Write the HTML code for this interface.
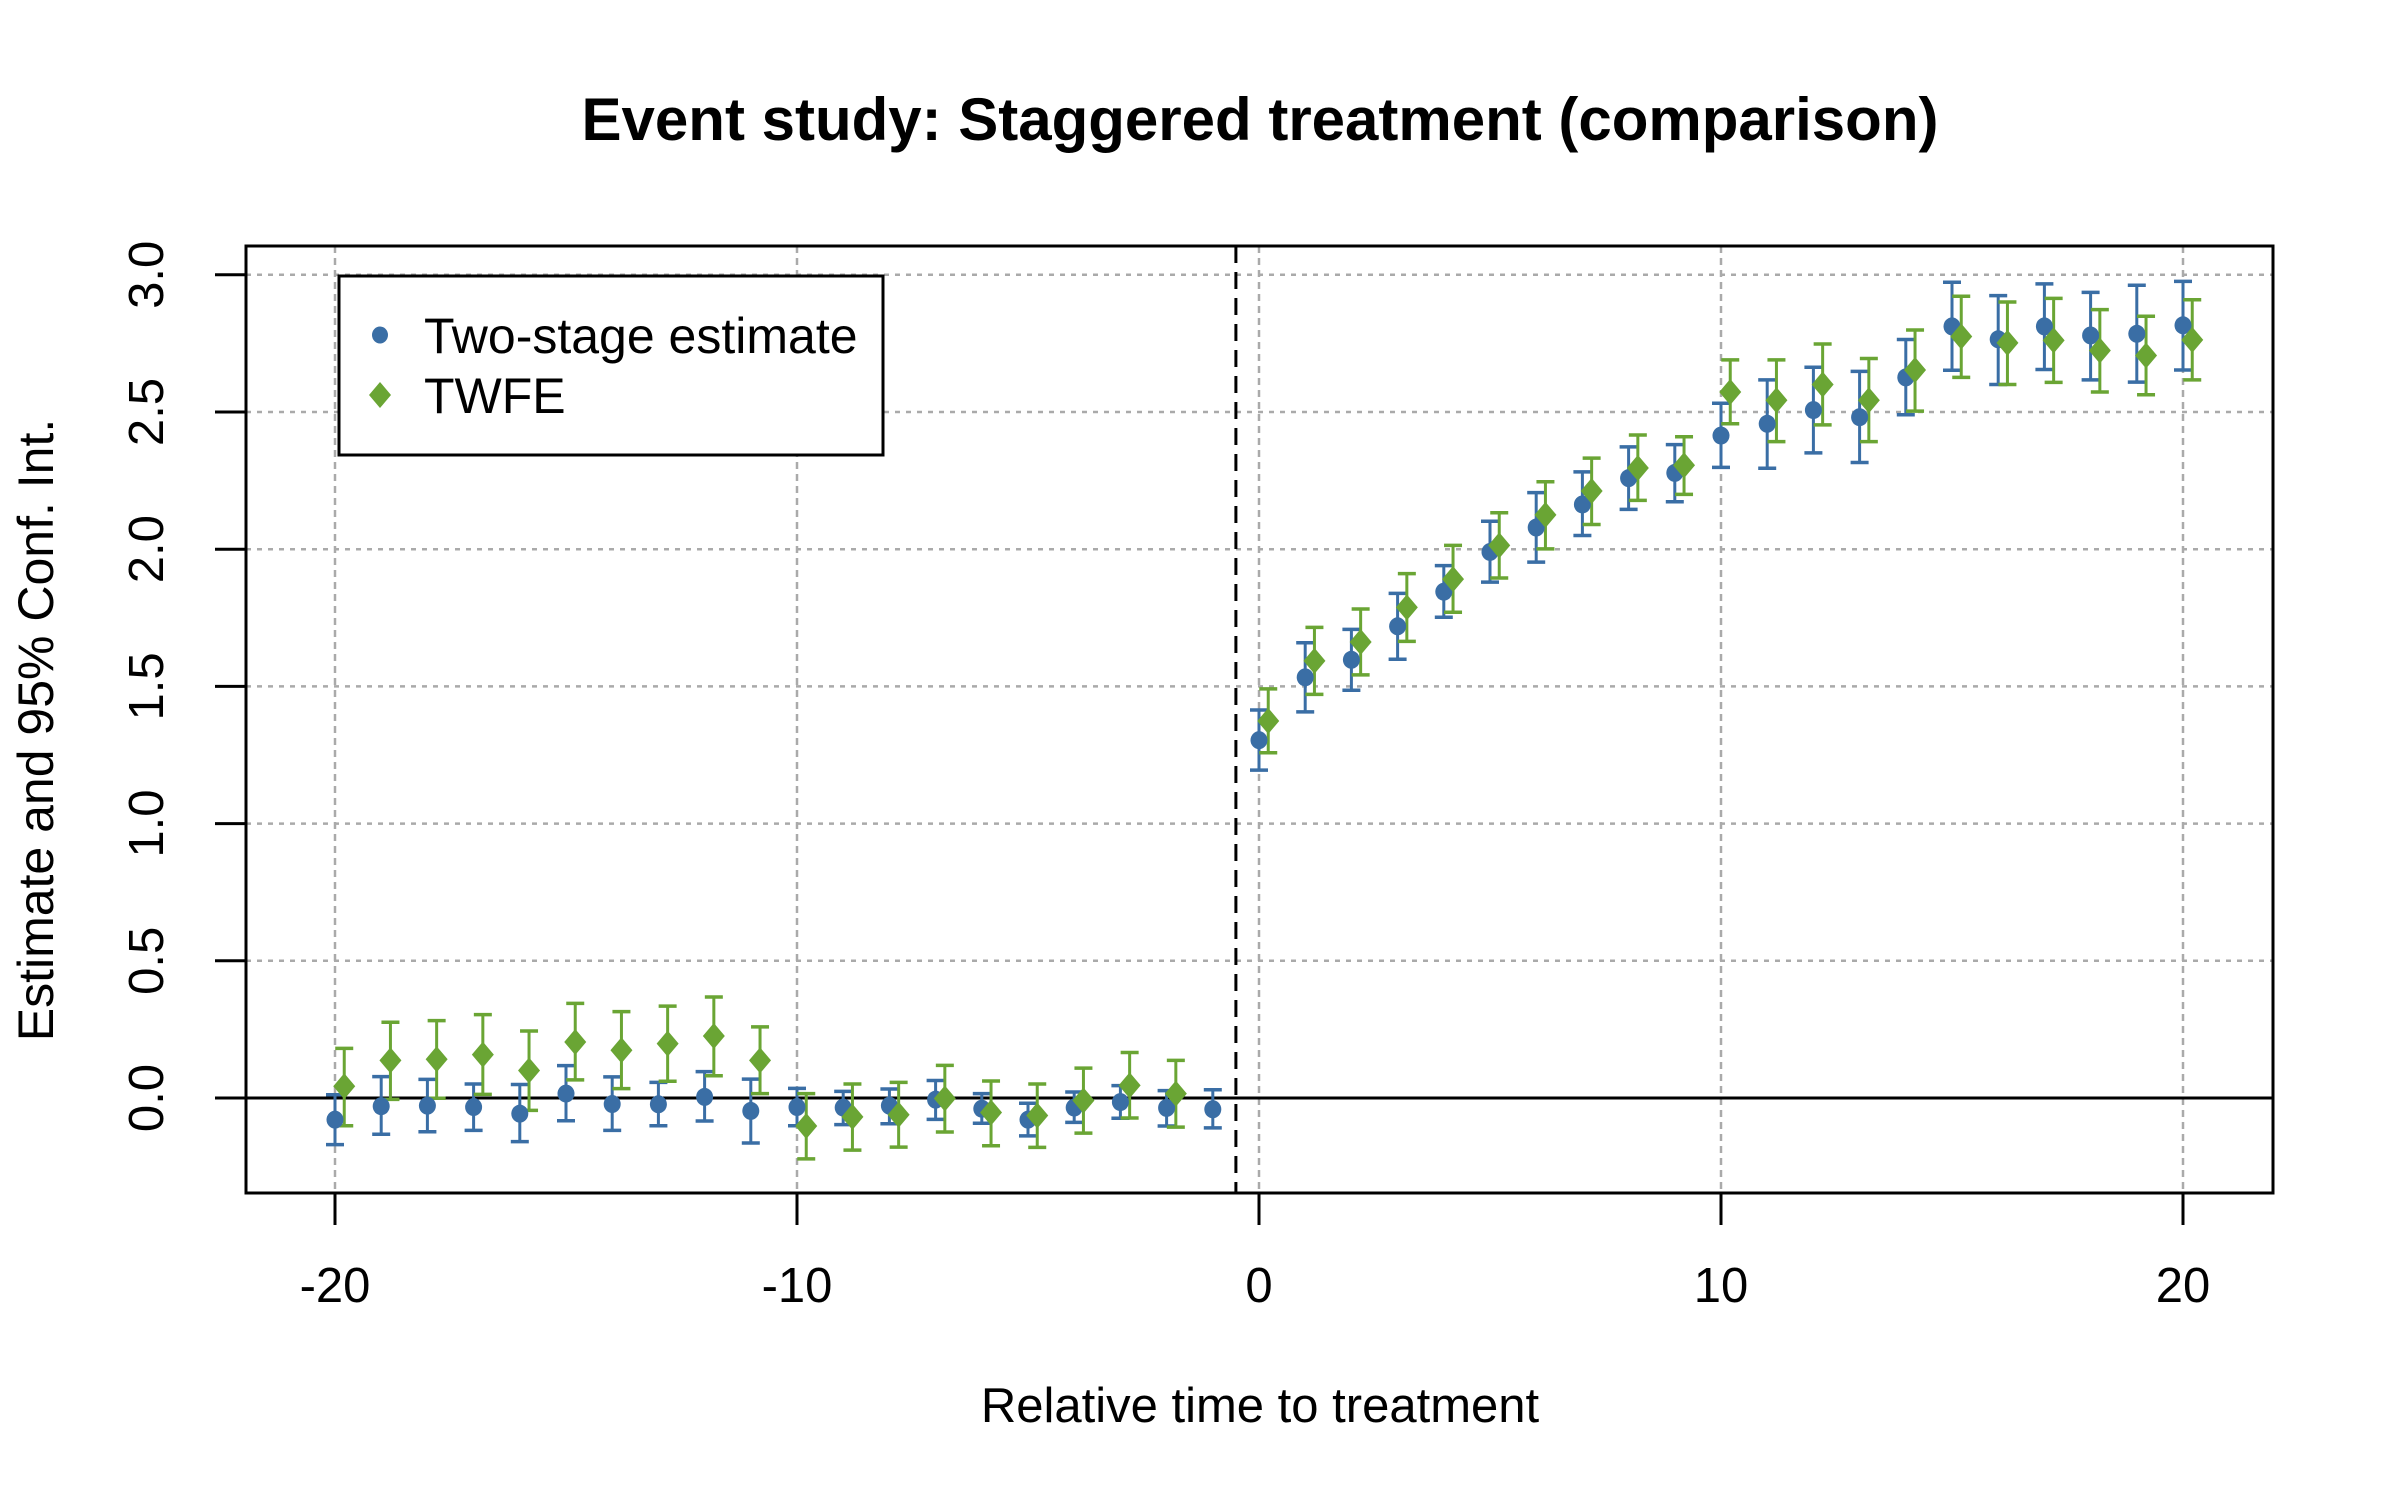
<!DOCTYPE html>
<html><head><meta charset="utf-8"><style>
html,body{margin:0;padding:0;background:#fff;}
svg{display:block;font-family:"Liberation Sans",Arial,sans-serif;}
</style></head><body>
<svg id="s" width="2400" height="1500" viewBox="0 0 2400 1500" xmlns="http://www.w3.org/2000/svg">
<rect width="2400" height="1500" fill="#fff"/>
<g id="grid"></g>
<g id="data"></g>
<rect x="246" y="246" width="2027" height="947" fill="none" stroke="#000" stroke-width="3"/>
<text x="1260" y="140" font-size="60" font-weight="bold" text-anchor="middle">Event study: Staggered treatment (comparison)</text>
<text x="1260" y="1422" font-size="49" text-anchor="middle">Relative time to treatment</text>
<text transform="translate(53,730) rotate(-90)" font-size="50" text-anchor="middle">Estimate and 95% Conf. Int.</text>
<g id="axes" font-size="49"></g>
<rect x="339" y="276" width="544" height="179" fill="#fff" stroke="#000" stroke-width="3"/>
<ellipse cx="380" cy="335" rx="8" ry="8.5" fill="#3a6ea5"/>
<polygon points="380,382 391,395 380,408 369,395" fill="#6aa534"/>
<text x="424" y="353" font-size="50">Two-stage estimate</text>
<text x="424" y="413" font-size="50">TWFE</text>
</svg>
<script>
var NS="http://www.w3.org/2000/svg";
function X(v){return 1259+46.2*v;}
function Y(v){return 1098-274.4*v;}
function el(p,t,a,txt){var e=document.createElementNS(NS,t);for(var k in a)e.setAttribute(k,a[k]);if(txt!==undefined)e.textContent=txt;p.appendChild(e);return e;}
var g=document.getElementById('grid'),d=document.getElementById('data'),ax=document.getElementById('axes');
[-20,-10,0,10,20].forEach(function(v){
 el(g,'line',{x1:X(v),x2:X(v),y1:246,y2:1193,stroke:'#aaa','stroke-width':2.5,'stroke-dasharray':'7 5'});
 el(ax,'line',{x1:X(v),x2:X(v),y1:1193,y2:1225,stroke:'#000','stroke-width':3});
 el(ax,'text',{x:X(v),y:1302,'text-anchor':'middle'},String(v));
});
[0,0.5,1,1.5,2,2.5,3].forEach(function(v){
 el(g,'line',{x1:246,x2:2273,y1:Y(v),y2:Y(v),stroke:'#aaa','stroke-width':2.5,'stroke-dasharray':'5 6'});
 el(ax,'line',{x1:215,x2:246,y1:Y(v),y2:Y(v),stroke:'#000','stroke-width':3});
 el(ax,'text',{transform:'translate(163,'+Y(v)+') rotate(-90)','text-anchor':'middle'},v.toFixed(1));
});
el(g,'line',{x1:246,x2:2273,y1:Y(0),y2:Y(0),stroke:'#000','stroke-width':3});
el(g,'line',{x1:X(-0.5),x2:X(-0.5),y1:246,y2:1193,stroke:'#000','stroke-width':3,'stroke-dasharray':'17 9'});
var blue=[[-0.079,0.012,-0.170],[-0.030,0.078,-0.132],[-0.028,0.068,-0.123],[-0.033,0.051,-0.118],[-0.057,0.049,-0.159],[0.016,0.118,-0.083],[-0.022,0.077,-0.118],[-0.023,0.057,-0.101],[0.004,0.096,-0.084],[-0.047,0.069,-0.164],[-0.033,0.035,-0.101],[-0.035,0.024,-0.097],[-0.028,0.033,-0.094],[-0.006,0.064,-0.078],[-0.039,0.016,-0.092],[-0.079,-0.019,-0.138],[-0.035,0.022,-0.089],[-0.015,0.045,-0.074],[-0.036,0.027,-0.102],[-0.041,0.030,-0.109],
[1.304,1.414,1.195],[1.533,1.659,1.407],[1.597,1.708,1.486],[1.719,1.839,1.599],[1.845,1.94,1.752],[1.990,2.102,1.880],[2.079,2.206,1.953],[2.163,2.282,2.050],[2.259,2.373,2.145],[2.278,2.381,2.173],[2.414,2.532,2.298],[2.457,2.617,2.295],[2.507,2.663,2.351],[2.481,2.648,2.316],[2.626,2.764,2.490],[2.812,2.973,2.652],[2.765,2.924,2.600],[2.812,2.967,2.655],[2.779,2.936,2.617],[2.785,2.962,2.609],[2.816,2.976,2.653]];
var bx=[];for(var k=-20;k<=-1;k++)bx.push(k);for(k=0;k<=20;k++)bx.push(k);
var green=[[0.043,0.181,-0.101],[0.137,0.276,-0.005],[0.141,0.282,-0.001],[0.158,0.304,0.013],[0.100,0.244,-0.045],[0.204,0.345,0.066],[0.174,0.315,0.034],[0.198,0.335,0.061],[0.226,0.368,0.081],[0.137,0.259,0.016],[-0.102,0.016,-0.222],[-0.069,0.051,-0.190],[-0.061,0.057,-0.179],[-0.002,0.119,-0.124],[-0.053,0.062,-0.174],[-0.064,0.051,-0.180],[-0.009,0.109,-0.128],[0.046,0.166,-0.073],[0.016,0.137,-0.106],
[1.374,1.491,1.258],[1.593,1.715,1.471],[1.662,1.782,1.542],[1.788,1.911,1.664],[1.891,2.014,1.770],[2.014,2.133,1.895],[2.125,2.246,2.001],[2.212,2.332,2.090],[2.296,2.416,2.178],[2.306,2.410,2.200],[2.573,2.690,2.457],[2.543,2.690,2.392],[2.600,2.748,2.453],[2.543,2.695,2.392],[2.653,2.799,2.503],[2.775,2.922,2.626],[2.752,2.901,2.600],[2.761,2.914,2.608],[2.724,2.873,2.573],[2.706,2.849,2.563],[2.763,2.909,2.617]];
var gx=[];for(k=-20;k<=-2;k++)gx.push(k);for(k=0;k<=20;k++)gx.push(k);
function bar(x,lo,hi,c){
 el(d,'line',{x1:x,x2:x,y1:Y(lo),y2:Y(hi),stroke:c,'stroke-width':3});
 el(d,'line',{x1:x-9,x2:x+9,y1:Y(lo),y2:Y(lo),stroke:c,'stroke-width':3.5});
 el(d,'line',{x1:x-9,x2:x+9,y1:Y(hi),y2:Y(hi),stroke:c,'stroke-width':3.5});
}
blue.forEach(function(r,i){var x=X(bx[i]);bar(x,r[2],r[1],'#3a6ea5');});
green.forEach(function(r,i){var x=X(gx[i]+0.2);bar(x,r[2],r[1],'#6aa534');});
blue.forEach(function(r,i){var x=X(bx[i]);el(d,'ellipse',{cx:x,cy:Y(r[0]),rx:8.5,ry:9,fill:'#3a6ea5'});});
green.forEach(function(r,i){var x=X(gx[i]+0.2),y=Y(r[0]);el(d,'polygon',{points:x+','+(y-13)+' '+(x+11)+','+y+' '+x+','+(y+13)+' '+(x-11)+','+y,fill:'#6aa534'});});
</script>
</body></html>
